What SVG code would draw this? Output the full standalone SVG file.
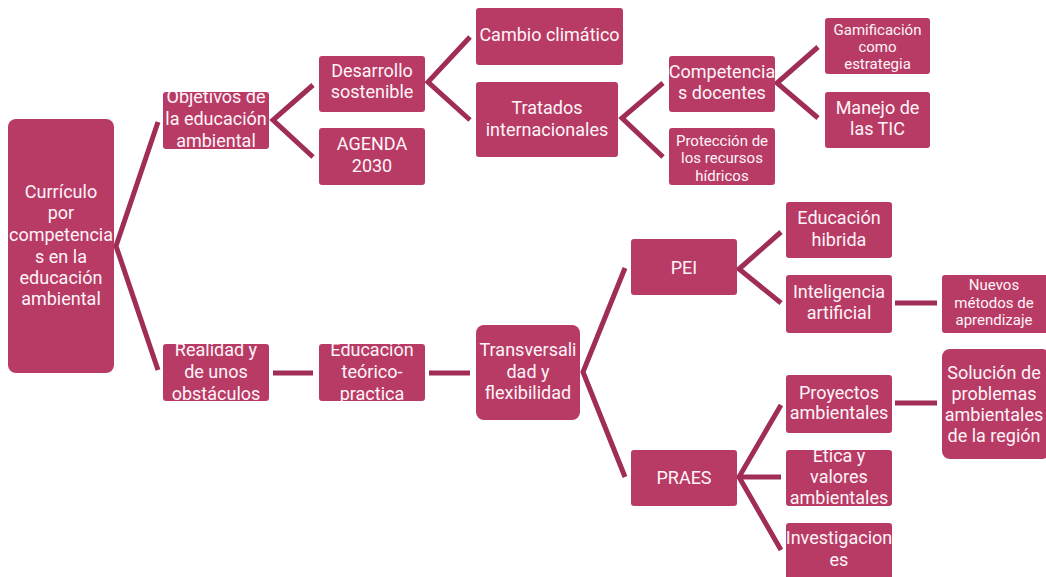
<svg xmlns="http://www.w3.org/2000/svg" width="1046" height="577" viewBox="0 0 1046 577">
<defs>
<style>
.n{fill:#B83B65;}
.t{fill:#FFF4F8;font-family:Roboto,"Liberation Sans",sans-serif;font-size:18px;text-anchor:middle;}
.s{font-size:15px;}
.c{fill:none;stroke:#A02D58;stroke-width:5;stroke-linejoin:miter;stroke-linecap:butt;}
</style>
<clipPath id="cpObj"><rect x="163" y="92" width="106" height="57"/></clipPath>
<clipPath id="cpReal"><rect x="163" y="344" width="106" height="57"/></clipPath>
<clipPath id="cpEdu"><rect x="319" y="344" width="106" height="57"/></clipPath>
<clipPath id="cpEtica"><rect x="786" y="450" width="106" height="56"/></clipPath>
</defs>
<rect width="1046" height="577" fill="#FFFFFF"/>
<g id="connectors">
<polyline class="c" points="158,122 116,246 158,370"/>
<polyline class="c" points="313,85 273,120 313,157"/>
<polyline class="c" points="470,37 428,82 470,120"/>
<polyline class="c" points="663,83 622,118 663,157"/>
<polyline class="c" points="818,47 777,83 818,118"/>
<line class="c" x1="273" y1="373" x2="313" y2="373"/>
<line class="c" x1="429" y1="373" x2="470" y2="373"/>
<polyline class="c" points="625,268 583,372 625,477"/>
<polyline class="c" points="781,232 739,269 781,303"/>
<line class="c" x1="895" y1="303" x2="937" y2="303"/>
<polyline class="c" points="781,405 739,477 781,550"/>
<line class="c" x1="739" y1="477" x2="781" y2="477"/>
<line class="c" x1="895" y1="403" x2="937" y2="403"/>
</g>
<g id="root"><rect class="n" x="8" y="119" width="106" height="254" rx="8"/>
<text class="t"><tspan x="61" y="198">Currículo</tspan><tspan x="61" y="219">por</tspan><tspan x="61" y="241">competencia</tspan><tspan x="61" y="263">s en la</tspan><tspan x="61" y="284">educación</tspan><tspan x="61" y="305">ambiental</tspan></text></g>
<g id="objetivos"><rect class="n" x="163" y="92" width="106" height="57" rx="3"/>
<text class="t" clip-path="url(#cpObj)"><tspan x="216" y="103">Objetivos de</tspan><tspan x="216" y="125">la educación</tspan><tspan x="216" y="147">ambiental</tspan></text></g>
<g id="realidad"><rect class="n" x="163" y="344" width="106" height="57" rx="3"/>
<text class="t" clip-path="url(#cpReal)"><tspan x="216" y="356">Realidad y</tspan><tspan x="216" y="378">de unos</tspan><tspan x="216" y="400">obstáculos</tspan></text></g>
<g id="educacion-teorico"><rect class="n" x="319" y="344" width="106" height="57" rx="3"/>
<text class="t" clip-path="url(#cpEdu)"><tspan x="372" y="356">Educación</tspan><tspan x="372" y="378">teórico-</tspan><tspan x="372" y="400">practica</tspan></text></g>
<g id="transversalidad"><rect class="n" x="476" y="325" width="104" height="95" rx="8"/>
<text class="t"><tspan x="528" y="356">Transversali</tspan><tspan x="528" y="378">dad y</tspan><tspan x="528" y="399">flexibilidad</tspan></text></g>
<g id="desarrollo"><rect class="n" x="319" y="56" width="106" height="56" rx="3"/>
<text class="t"><tspan x="372" y="77">Desarrollo</tspan><tspan x="372" y="98">sostenible</tspan></text></g>
<g id="agenda"><rect class="n" x="319" y="128" width="106" height="57" rx="3"/>
<text class="t"><tspan x="372" y="149.5">AGENDA</tspan><tspan x="372" y="171.5">2030</tspan></text></g>
<g id="cambio"><rect class="n" x="476" y="8" width="147" height="57" rx="3"/>
<text class="t"><tspan x="549.5" y="41">Cambio climático</tspan></text></g>
<g id="tratados"><rect class="n" x="476" y="82" width="142" height="75" rx="3"/>
<text class="t"><tspan x="547" y="114">Tratados</tspan><tspan x="547" y="136">internacionales</tspan></text></g>
<g id="competencias"><rect class="n" x="669" y="56" width="106" height="56" rx="3"/>
<text class="t"><tspan x="722" y="78">Competencia</tspan><tspan x="722" y="99">s docentes</tspan></text></g>
<g id="proteccion"><rect class="n" x="669" y="128" width="106" height="57" rx="3"/>
<text class="t s"><tspan x="722" y="145.5">Protección de</tspan><tspan x="722" y="163">los recursos</tspan><tspan x="722" y="180.5">hídricos</tspan></text></g>
<g id="gamificacion"><rect class="n" x="825" y="18" width="105" height="56" rx="3"/>
<text class="t s"><tspan x="877.5" y="35">Gamificación</tspan><tspan x="877.5" y="52">como</tspan><tspan x="877.5" y="68.5">estrategia</tspan></text></g>
<g id="manejo"><rect class="n" x="825" y="92" width="105" height="56" rx="3"/>
<text class="t"><tspan x="877.5" y="114">Manejo de</tspan><tspan x="877.5" y="135">las TIC</tspan></text></g>
<g id="pei"><rect class="n" x="631" y="239" width="106" height="56" rx="3"/>
<text class="t"><tspan x="684" y="273.5">PEI</tspan></text></g>
<g id="hibrida"><rect class="n" x="786" y="202" width="106" height="56" rx="3"/>
<text class="t"><tspan x="839" y="224">Educación</tspan><tspan x="839" y="246">hibrida</tspan></text></g>
<g id="inteligencia"><rect class="n" x="786" y="275" width="106" height="58" rx="3"/>
<text class="t"><tspan x="839" y="298">Inteligencia</tspan><tspan x="839" y="319">artificial</tspan></text></g>
<g id="nuevos"><rect class="n" x="942" y="275" width="108" height="58" rx="3"/>
<text class="t s"><tspan x="994" y="290">Nuevos</tspan><tspan x="994" y="307.5">métodos de</tspan><tspan x="994" y="325">aprendizaje</tspan></text></g>
<g id="praes"><rect class="n" x="631" y="450" width="106" height="56" rx="3"/>
<text class="t"><tspan x="684" y="483.5">PRAES</tspan></text></g>
<g id="proyectos"><rect class="n" x="786" y="375" width="106" height="58" rx="3"/>
<text class="t"><tspan x="839" y="399">Proyectos</tspan><tspan x="839" y="419">ambientales</tspan></text></g>
<g id="etica"><rect class="n" x="786" y="450" width="106" height="56" rx="3"/>
<text class="t" clip-path="url(#cpEtica)"><tspan x="839" y="462">Ética y</tspan><tspan x="839" y="483">valores</tspan><tspan x="839" y="504">ambientales</tspan></text></g>
<g id="investigaciones"><rect class="n" x="786" y="523" width="106" height="60" rx="3"/>
<text class="t"><tspan x="839" y="544">Investigacion</tspan><tspan x="839" y="566">es</tspan></text></g>
<g id="solucion"><rect class="n" x="942" y="349" width="108" height="110" rx="8"/>
<text class="t"><tspan x="994" y="378.5">Solución de</tspan><tspan x="994" y="399.5">problemas</tspan><tspan x="994" y="420.5">ambientales</tspan><tspan x="994" y="442">de la región</tspan></text></g>
</svg>
